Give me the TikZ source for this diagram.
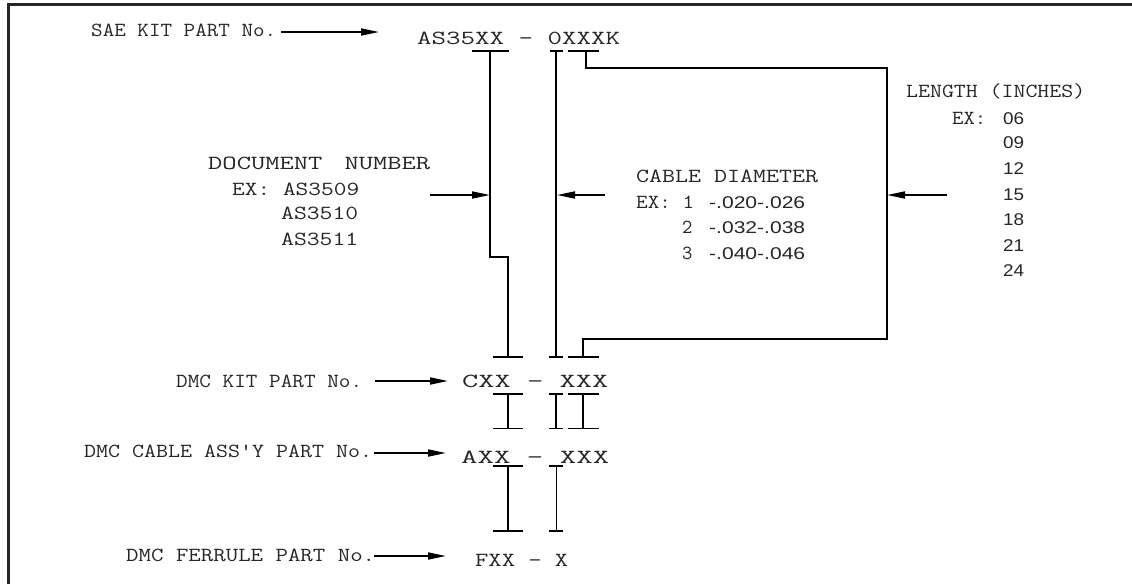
\documentclass[tikz,border=0pt]{standalone}
\usepackage{fontspec}
\usepackage{graphicx}
\usetikzlibrary{arrows.meta}
\newfontfamily\helvf{Liberation Sans}
\newcommand{\fitw}[2]{\resizebox{#1pt}{\height}{#2}}
\begin{document}
\begin{tikzpicture}[x=1pt,y=-1pt,
  txt/.style={anchor=base west, inner sep=0pt, font=\fontsize{20}{20}\ttfamily, text=black!85},
  num/.style={anchor=base west, inner sep=0pt, font=\fontsize{17}{17}\helvf, text=black!85},
  ln/.style={line width=1.8pt, draw=black},
  arr/.style={ln, -{Triangle[length=18pt,width=7pt]}}]
\useasboundingbox (0,0) rectangle (1132,584);
% frame
\draw[line width=2.6pt, draw=black!85] (8.5,584) -- (8.5,4.5) -- (1132,4.5);

% texts
\node[txt] (sae) at (91,36) {\fitw{185}{SAE KIT PART No.}};
\node[txt] (top) at (417,44) {\fitw{203}{AS35XX - 0XXXK}};
\node[txt] (doc) at (208,169) {\fitw{222}{DOCUMENT\hspace{0.8em}NUMBER}};
\node[txt] (ex1) at (232,195) {\fitw{127}{EX: AS3509}};
\node[txt] (ex2) at (281,219) {\fitw{77}{AS3510}};
\node[txt] (ex3) at (281,245) {\fitw{77}{AS3511}};
\node[txt] (cab) at (636,182) {\fitw{182}{CABLE DIAMETER}};
\node[txt] (cex) at (636,208) {\fitw{58}{EX: 1}};
\node[txt] (c2) at (682,233) {2};
\node[txt] (c3) at (682,259) {3};
\node[num] (r1) at (709,208) {\fitw{96}{-.020-.026}};
\node[num] (r2) at (709,233) {\fitw{96}{-.032-.038}};
\node[num] (r3) at (709,259) {\fitw{96}{-.040-.046}};
\node[txt] (len) at (906,97) {\fitw{179}{LENGTH (INCHES)}};
\node[txt] (lex) at (952,124) {\fitw{34}{EX:}};
\foreach \v/\yy in {06/124,09/148,12/174,15/200,18/225,21/251,24/276}
  \node[num] (n\v) at (1003,\yy) {\fitw{21}{\v}};
\node[txt] (kit) at (176,387) {\fitw{186}{DMC KIT PART No.}};
\node[txt] (cxx) at (462,387) {\fitw{146}{CXX - XXX}};
\node[txt] (asy) at (84,457) {\fitw{288}{DMC CABLE ASS'Y PART No.}};
\node[txt] (axx) at (461,463) {\fitw{148}{AXX - XXX}};
\node[txt] (fer) at (126,561) {\fitw{249}{DMC FERRULE PART No.}};
\node[txt] (fxx) at (475,566) {\fitw{93}{FXX - X}};

% coordinates of brackets
\coordinate (a0) at (490,51); \coordinate (a1) at (490,257);
\coordinate (a2) at (508,257); \coordinate (a3) at (508,357);
\coordinate (b0) at (556,51); \coordinate (b1) at (556,357);
\coordinate (c0) at (586,51); \coordinate (c1) at (586,68);
\coordinate (c2p) at (887,68); \coordinate (c3p) at (887,339);
\coordinate (c4) at (583,339); \coordinate (c5) at (583,357);

% top bars
\draw[ln] (472,51) -- (509,51);
\draw[ln] (550,51) -- (563,51);
\draw[ln] (568,51) -- (599,51);
\draw[ln] (a0) -- (a1) -- (a2) -- (a3);
\draw[ln] (b0) -- (b1);
\draw[ln] (c0) -- (c1) -- (c2p) -- (c3p) -- (c4) -- (c5);
% bottom bars over CXX
\draw[ln] (493,357) -- (523,357);
\draw[ln] (549,357) -- (563,357);
\draw[ln] (568,357) -- (599,357);

% I-beams CXX -> AXX
\foreach \l/\m/\r in {493/508/523, 549/556/563, 568/583/599} {
  \draw[ln] (\l,394) -- (\r,394);
  \draw[ln] (\m,394) -- (\m,428.5);
  \draw[ln] (\l,428.5) -- (\r,428.5);
}
% I-beams AXX -> FXX
\foreach \l/\m/\r in {493/508/523, 549/556.5/563} {
  \draw[ln] (\l,466) -- (\r,466);
  \draw[ln] (\m,466) -- (\m,531);
  \draw[ln] (\l,531) -- (\r,531);
}

% arrows
\coordinate (saeA) at (281,32); \coordinate (saeB) at (379,32);
\draw[arr] (saeA) -- (saeB);
\coordinate (docA) at (430,195); \coordinate (docB) at (490,195);
\draw[arr] (docA) -- (docB);
\coordinate (cabA) at (605,195); \coordinate (cabB) at (557,195);
\draw[arr] (cabA) -- (cabB);
\coordinate (lenA) at (947,195); \coordinate (lenB) at (887,195);
\draw[arr] (lenA) -- (lenB);
\coordinate (kitA) at (375,381); \coordinate (kitB) at (448,381);
\draw[arr] (kitA) -- (kitB);
\coordinate (asyA) at (374,453); \coordinate (asyB) at (446,453);
\draw[arr] (asyA) -- (asyB);
\coordinate (ferA) at (374,556); \coordinate (ferB) at (446,556);
\draw[arr] (ferA) -- (ferB);
\end{tikzpicture}
\end{document}
